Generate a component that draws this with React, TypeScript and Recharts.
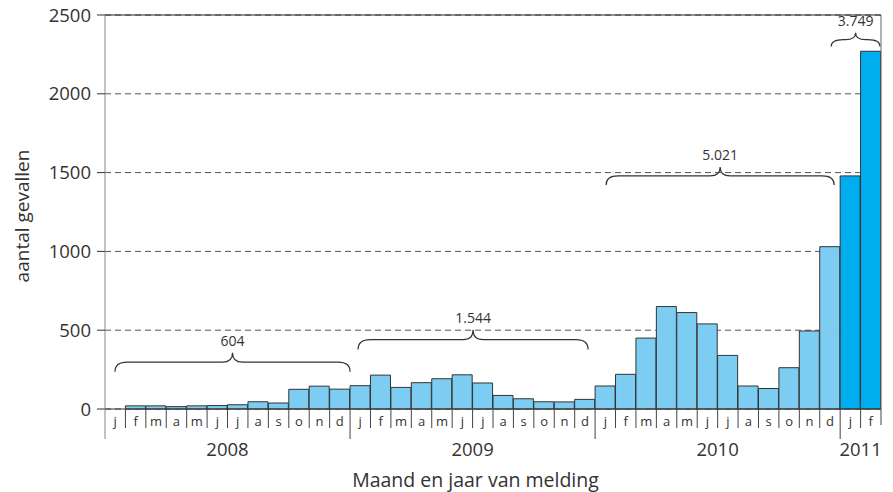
import React from 'react';
import { BarChart, Bar, XAxis, YAxis, CartesianGrid, ReferenceLine, ReferenceArea, Cell } from 'recharts';

const monthLetters = ['j', 'f', 'm', 'a', 'm', 'j', 'j', 'a', 's', 'o', 'n', 'd'];
const years = ['2008', '2009', '2010', '2011'];
const cases2008 = [0, 20, 20, 15, 20, 22, 27, 46, 38, 125, 145, 126];
const cases2009 = [148, 215, 137, 167, 192, 217, 165, 86, 65, 46, 45, 61];
const cases2010 = [146, 220, 450, 650, 612, 540, 340, 146, 130, 262, 495, 1030];
const cases2011 = [1479, 2270];
const yearTotals = ['604', '1.544', '5.021', '3.749'];
const yTicks = [0, 500, 1000, 1500, 2000, 2500];

// brace anchor heights (in value units): tip bottom, cusp top
const braceBottoms = [237, 377, 1422, 2300];
const braceTops = [357, 503, 1536, 2388];
const braceInsets = [[10, 0], [8, -7], [11, -6], [-9, -1]];

const seriesByYear = [cases2008, cases2009, cases2010, cases2011];

const data = seriesByYear.flatMap((vals, yi) =>
  vals.map((v, mi) => ({
    key: `${years[yi]}-${mi}`,
    month: monthLetters[mi],
    year: years[yi],
    yearIndex: yi,
    monthIndex: mi,
    yearLength: vals.length,
    value: v,
  }))
);

const W = 893;
const H = 492;
const LEFT = 105;
const RIGHT_W = 12;
const BW = (W - LEFT - RIGHT_W) / data.length;
const TEXT = '#333';

const MonthTick = (props: any) => {
  const { x, y, index } = props;
  const d = data[index];
  if (!d) return null;
  const left = x - BW / 2;
  const isYearStart = d.monthIndex === 0;
  const isLast = index === data.length - 1;
  const showYear = d.monthIndex === d.yearLength / 2;
  return (
    <g>
      <line x1={left} x2={left} y1={y} y2={y + (isYearStart ? 30 : 19)} stroke={index === 0 ? '#888' : '#444'} strokeWidth={1} />
      {isLast && <line x1={x + BW / 2} x2={x + BW / 2} y1={y} y2={y + 16} stroke="#444" strokeWidth={1} />}
      <text x={x} y={y + 12} textAnchor="middle" dominantBaseline="central" fontSize={13} fill={TEXT}>
        {d.month}
      </text>
      {showYear && (
        <text x={left} y={y + 39} textAnchor="middle" dominantBaseline="central" fontSize={18.5} fill={TEXT}>
          {d.year}
        </text>
      )}
    </g>
  );
};

const makeBrace = (idx: number) => (p: any) => {
  const { x, y, width, height } = p;
  const xl = x + braceInsets[idx][0];
  const xr = x + width + braceInsets[idx][1];
  const yb = y + height;
  const yt = y;
  const yf = (yb + yt) / 2;
  const xm = (xl + xr) / 2;
  const r = 12;
  const rc = 10;
  const d = `M${xl},${yb} Q${xl},${yf} ${xl + r},${yf} L${xm - rc},${yf} Q${xm},${yf} ${xm},${yt} Q${xm},${yf} ${xm + rc},${yf} L${xr - r},${yf} Q${xr},${yf} ${xr},${yb}`;
  return (
    <g>
      <path d={d} fill="none" stroke="#333" strokeWidth={1.2} />
      <text x={xm} y={yt - 12} textAnchor="middle" dominantBaseline="central" fontSize={14} fill={TEXT}>
        {yearTotals[idx]}
      </text>
    </g>
  );
};

export default function App() {
  return (
    <div style={{ position: 'absolute', left: 0, top: 0, fontFamily: "'Open Sans', sans-serif" }}>
      <BarChart
        width={W}
        height={H}
        data={data}
        margin={{ top: 15, right: 0, left: 0, bottom: 0 }}
        barCategoryGap={0}
        barGap={0}
      >
        <CartesianGrid vertical={false} stroke="#555" strokeDasharray="6 4" />
        <XAxis
          dataKey="key"
          interval={0}
          height={83}
          tickSize={0}
          tickMargin={0}
          tickLine={false}
          axisLine={{ stroke: '#333', strokeWidth: 1.2 }}
          tick={<MonthTick />}
          label={{
            content: () => (
              <text x={475.5} y={487} textAnchor="middle" fontSize={19.5} fill={TEXT}>
                Maand en jaar van melding
              </text>
            ),
          }}
        />
        <YAxis
          domain={[0, 2500]}
          ticks={yTicks}
          width={LEFT}
          tickSize={8}
          tickMargin={6}
          axisLine={{ stroke: '#888' }}
          tickLine={{ stroke: '#333' }}
          tick={{ fill: TEXT, fontSize: 18.5 }}
          label={{
            content: (lp: any) => {
              const vb = lp.viewBox || { x: 0, y: 15, width: LEFT, height: 394 };
              const cx = vb.x + 21.5;
              const cy = 216;
              return (
                <text x={cx} y={cy} transform={`rotate(-90 ${cx} ${cy})`} textAnchor="middle" dominantBaseline="central" fontSize={19} fill={TEXT}>
                  aantal gevallen
                </text>
              );
            },
          }}
        />
        <YAxis yAxisId="r" orientation="right" domain={[0, 2500]} width={RIGHT_W} tick={false} tickLine={false} axisLine={{ stroke: '#666' }} />
        <ReferenceLine y={2500} stroke="#222" strokeWidth={1} />
        <Bar dataKey="value" stroke="#333" strokeWidth={1} isAnimationActive={false}>
          {data.map((d) => (
            <Cell key={d.key} fill={d.yearIndex === 3 ? '#00aeef' : '#7dcdf3'} />
          ))}
        </Bar>
        {years.map((yr, i) => {
          const vals = seriesByYear[i];
          return (
            <ReferenceArea
              key={yr}
              x1={`${yr}-0`}
              x2={`${yr}-${vals.length - 1}`}
              y1={braceBottoms[i]}
              y2={braceTops[i]}
              shape={makeBrace(i)}
              ifOverflow="visible"
            />
          );
        })}
      </BarChart>
    </div>
  );
}
